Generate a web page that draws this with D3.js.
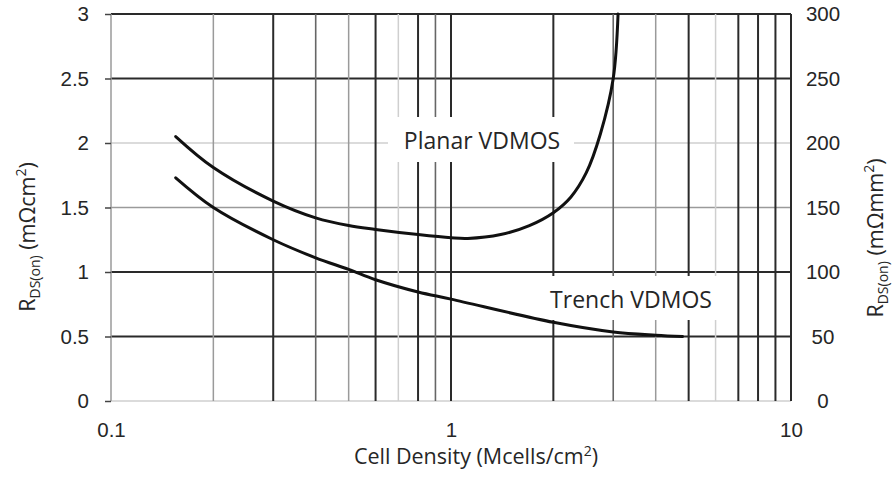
<!DOCTYPE html>
<html>
<head>
<meta charset="utf-8">
<script src="https://cdn.jsdelivr.net/npm/d3@7"></script>
<style>
  body { margin: 0; background: #fff; }
  svg { font-family: "Open Sans", sans-serif; }
  .tick text { fill: #262626; font-size: 20.5px; }
  .grid-dark { stroke: #2a2a2a; stroke-width: 2; }
  .grid-mid { stroke: #666; stroke-width: 1.6; }
  .grid-gray { stroke: #9a9a9a; stroke-width: 1.5; }
  .grid-light { stroke: #cfcfcf; stroke-width: 1.5; }
  .curve { fill: none; stroke: #111; stroke-width: 3; stroke-linecap: round; }
  .label { font-size: 23px; fill: #262626; }
  .title { font-size: 21.5px; fill: #262626; }
</style>
</head>
<body>
<script>

var w = 892,
    h = 482;

// x grid (log) and y grid values
var xGrid = [0.1, 0.2, 0.3, 0.4, 0.5, 0.6, 0.7, 0.8, 0.9, 1, 2, 3, 4, 5, 6, 7, 8, 9, 10];
var yGrid = [0, 0.5, 1, 1.5, 2, 2.5, 3];

// tick labels
var xTicks = [0.1, 1, 10];
var yTicks = [0, 0.5, 1, 1.5, 2, 2.5, 3];
var y2Ticks = [0, 50, 100, 150, 200, 250, 300];

// curves
var planarX = [0.155, 0.2, 0.3, 0.4, 0.5, 0.6, 0.8, 1.0, 1.12, 1.4, 1.7, 2.0, 2.25, 2.5, 2.75, 3.0, 3.1];
var planarY = [2.05, 1.81, 1.55, 1.42, 1.36, 1.33, 1.29, 1.265, 1.26, 1.29, 1.36, 1.46, 1.58, 1.77, 2.07, 2.5, 3.0];

var trenchX = [0.155, 0.2, 0.3, 0.4, 0.5, 0.6, 0.8, 1.0, 2.0, 3.0, 4.0, 4.8];
var trenchY = [1.73, 1.50, 1.25, 1.11, 1.02, 0.94, 0.845, 0.79, 0.61, 0.535, 0.51, 0.50];

// which grid lines look dark / gray in the original
var xDark = [0.3, 0.6, 0.8, 1, 2, 5, 7, 8, 9, 10],
    xMid = [0.4, 0.9, 3],
    xLight = [0.7, 6];
var yDark = [0.5, 1, 2.5, 3],
    yLight = [0, 2];

var x = d3.scaleLog().domain([0.1, 10]).range([111, 791]);
var y = d3.scaleLinear().domain([0, 3]).range([401, 14]);
var y2 = d3.scaleLinear().domain([0, 300]).range([401, 14]);

var svg = d3.select('body')
    .append('svg')
    .attr('width', w)
    .attr('height', h);

svg.append('rect').attr('width', w).attr('height', h).attr('fill', '#fff');

function xClass(d) {
    if (xDark.indexOf(d) >= 0) return 'grid-dark';
    if (xMid.indexOf(d) >= 0) return 'grid-mid';
    if (xLight.indexOf(d) >= 0) return 'grid-light';
    return 'grid-gray';
}
function yClass(d) {
    if (yDark.indexOf(d) >= 0) return 'grid-dark';
    if (yLight.indexOf(d) >= 0) return 'grid-light';
    return 'grid-gray';
}

// grid
svg.append('g').selectAll('line')
    .data(yGrid)
    .enter()
    .append('line')
    .attr('class', yClass)
    .attr('x1', x.range()[0]).attr('x2', x.range()[1])
    .attr('y1', function(d){ return y(d) }).attr('y2', function(d){ return y(d) });

svg.append('g').selectAll('line')
    .data(xGrid)
    .enter()
    .append('line')
    .attr('class', xClass)
    .attr('x1', function(d){ return x(d) }).attr('x2', function(d){ return x(d) })
    .attr('y1', y.range()[0]).attr('y2', y.range()[1]);

// label boxes break the grid
svg.append('rect').attr('x', 388).attr('y', 117).attr('width', 186).attr('height', 45).attr('fill', '#fff');
svg.append('rect').attr('x', 541).attr('y', 276).attr('width', 182).attr('height', 44).attr('fill', '#fff');

// axes
var yAxis = svg.append('g')
    .attr('transform', 'translate(' + x.range()[0] + ',0)')
    .call(d3.axisLeft(y).tickValues(yTicks).tickSize(6).tickPadding(16).tickFormat(d3.format('~g')));
yAxis.select('.domain').remove();
yAxis.selectAll('.tick line').attr('stroke', '#444').attr('stroke-width', 1.5);

var y2Axis = svg.append('g')
    .attr('transform', 'translate(' + x.range()[1] + ',0)')
    .call(d3.axisRight(y2).tickValues(y2Ticks).tickSize(0).tickFormat(d3.format('d')));
y2Axis.select('.domain').remove();
y2Axis.selectAll('.tick text').attr('x', 32).attr('text-anchor', 'middle');

var xAxis = svg.append('g')
    .attr('transform', 'translate(0,' + y.range()[0] + ')')
    .call(d3.axisBottom(x).tickValues(xTicks).tickSize(0).tickPadding(21).tickFormat(d3.format('~g')));
xAxis.select('.domain').remove();

// curves
var line = d3.line()
    .x(function(d){ return x(d[0]) })
    .y(function(d){ return y(d[1]) })
    .curve(d3.curveCatmullRom.alpha(0.5));

svg.append('path')
    .attr('class', 'curve')
    .attr('d', line(d3.zip(planarX, planarY)));

svg.append('path')
    .attr('class', 'curve')
    .attr('d', line(d3.zip(trenchX, trenchY)));

// labels
svg.append('text').attr('class', 'label')
    .attr('x', 482).attr('y', 149).attr('text-anchor', 'middle')
    .text('Planar VDMOS');
svg.append('text').attr('class', 'label')
    .attr('x', 631).attr('y', 308).attr('text-anchor', 'middle')
    .text('Trench VDMOS');

// titles
var xt = svg.append('text').attr('class', 'title')
    .attr('x', 476).attr('y', 464).attr('text-anchor', 'middle');
xt.append('tspan').text('Cell Density (Mcells/cm');
xt.append('tspan').attr('font-size', '14px').attr('dy', -8).text('2');
xt.append('tspan').attr('dy', 8).text(')');

function rdsTitle(g, unit) {
    var t = g.append('text').attr('class', 'title').attr('text-anchor', 'middle');
    t.append('tspan').text('R');
    t.append('tspan').attr('font-size', '14px').attr('dy', 5).text('DS(on)');
    t.append('tspan').attr('dy', -5).text(' (' + unit);
    t.append('tspan').attr('font-size', '14px').attr('dy', -9).text('2');
    t.append('tspan').attr('dy', 9).text(')');
}
rdsTitle(svg.append('g').attr('transform', 'translate(35,237) rotate(-90)'), 'm\u03A9cm');
rdsTitle(svg.append('g').attr('transform', 'translate(883,238) rotate(-90)'), 'm\u03A9mm');

</script>
</body>
</html>
